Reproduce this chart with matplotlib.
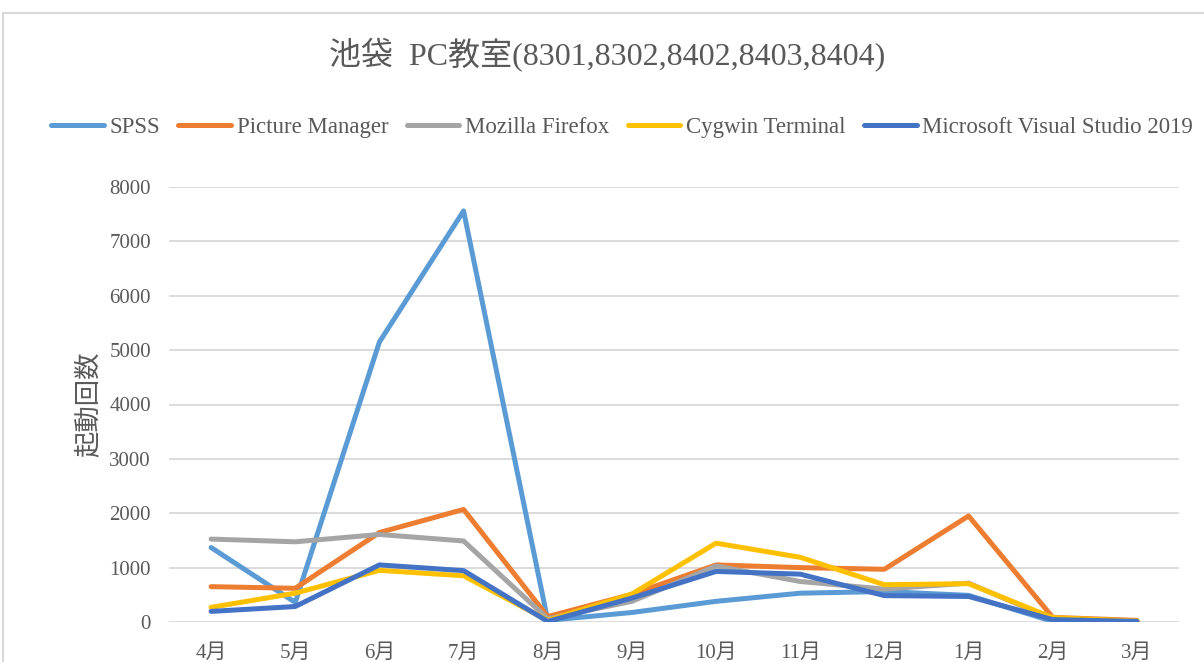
import matplotlib.pyplot as plt
from matplotlib.patches import Rectangle

plt.rcParams['font.family'] = ['Liberation Serif', 'Noto Sans CJK JP', 'DejaVu Sans']

months = ["4月", "5月", "6月", "7月", "8月", "9月", "10月", "11月", "12月", "1月", "2月", "3月"]

spss = [1370, 360, 5150, 7560, 30, 175, 380, 530, 560, 490, 10, 5]
picture_manager = [650, 620, 1645, 2070, 100, 510, 1050, 1000, 970, 1950, 85, 30]
firefox = [1525, 1475, 1610, 1490, 60, 380, 1030, 745, 605, 715, 50, 10]
cygwin = [270, 530, 950, 850, 30, 515, 1450, 1190, 685, 705, 80, 15]
vs2019 = [195, 285, 1050, 945, 10, 440, 930, 880, 485, 470, 45, 10]

series = [
    ("SPSS", spss, "#5B9BD5"),
    ("Picture Manager", picture_manager, "#ED7D31"),
    ("Mozilla Firefox", firefox, "#A5A5A5"),
    ("Cygwin Terminal", cygwin, "#FFC000"),
    ("Microsoft Visual Studio 2019", vs2019, "#4472C4"),
]

text_color = "#595959"

fig = plt.figure(figsize=(12.04, 6.62), dpi=100)
ax = fig.add_axes([169 / 1204, 1 - 622 / 662, (1179 - 169) / 1204, (622 - 187) / 662])

x = list(range(len(months)))
for name, vals, col in series:
    ax.plot(x, vals, color=col, lw=3.6, label=name, solid_capstyle="round", solid_joinstyle="round")

ax.set_xlim(-0.5, len(months) - 0.5)
ax.set_ylim(0, 8000)
ax.set_yticks(range(0, 8001, 1000))
ax.set_xticks(x)
ax.set_xticklabels(months)
ax.grid(axis="y", color="#d9d9d9", lw=1.3)
ax.set_axisbelow(True)
for s in ax.spines.values():
    s.set_visible(False)
ax.tick_params(length=0, labelsize=15, labelcolor=text_color)
ax.tick_params(axis="y", pad=13)
ax.tick_params(axis="x", pad=16)
ax.set_ylabel("起動回数", fontsize=19, color=text_color, labelpad=6)

fig.text(607 / 1204, 1 - 55 / 662, "池袋  PC教室(8301,8302,8402,8403,8404)",
         ha="center", va="center", fontsize=23, color=text_color)

fig.legend(loc="center", bbox_to_anchor=(622 / 1204, 1 - 127 / 662), ncol=5, frameon=False,
           fontsize=16.5, handlelength=2.3, handletextpad=0.25, columnspacing=0.8,
           labelcolor=text_color)

fig.add_artist(Rectangle((3 / 1204, -0.1), 1.2, 1.1 - 13 / 662, transform=fig.transFigure,
                         fill=False, ec="#d9d9d9", lw=1.5))

fig.savefig("out.png", dpi=100)
